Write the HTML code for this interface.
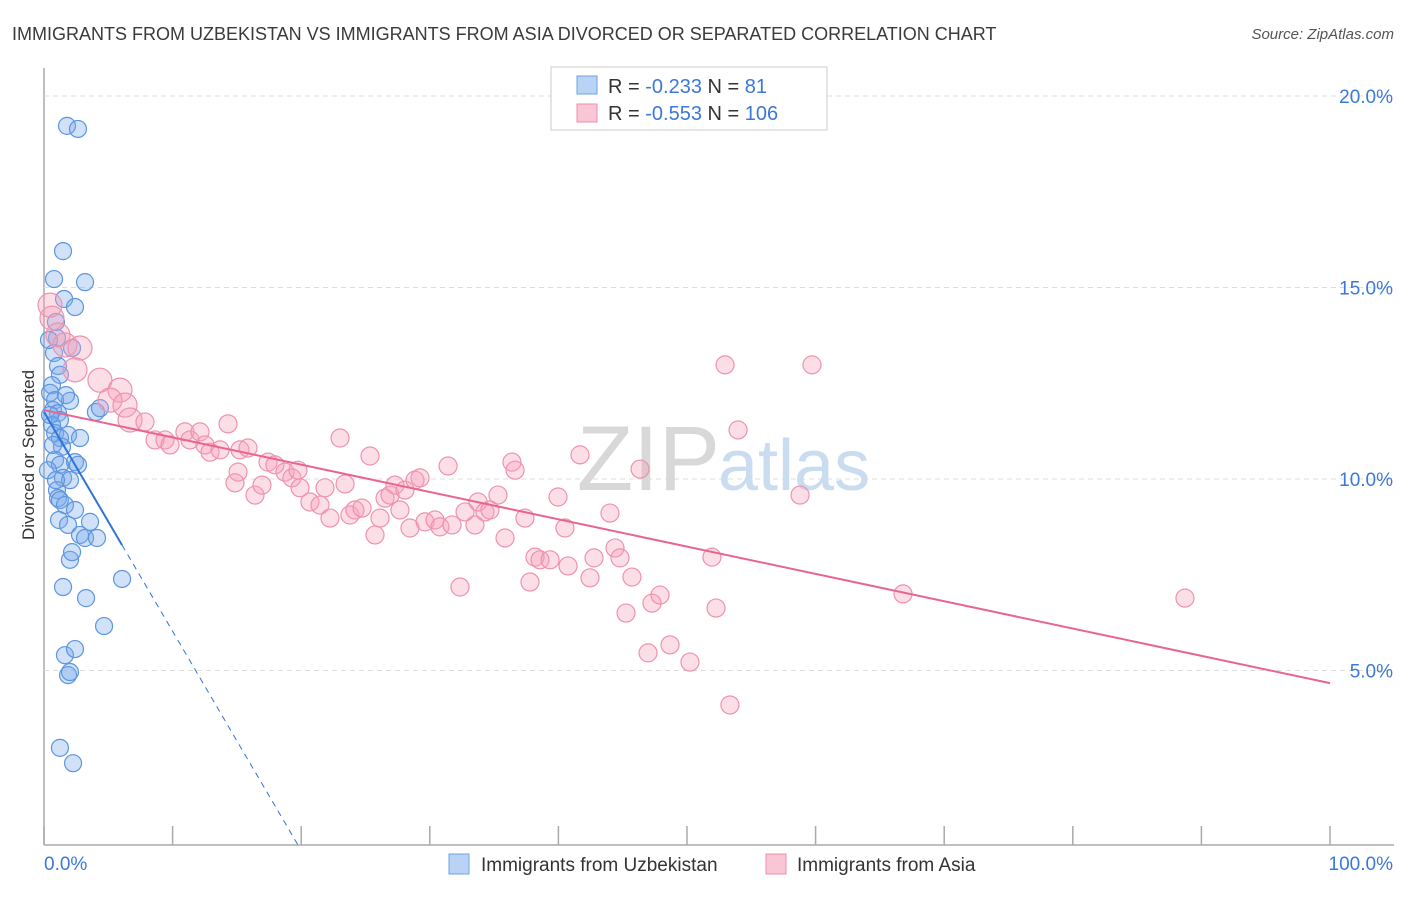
<!DOCTYPE html>
<html><head><meta charset="utf-8"><style>
body{margin:0;background:#fff;font-family:"Liberation Sans",sans-serif}
svg text{font-family:"Liberation Sans",sans-serif}
</style></head><body>
<svg id="c" width="1406" height="892" xmlns="http://www.w3.org/2000/svg">
<text x="12" y="40" font-size="18" fill="#3a3a3a">IMMIGRANTS FROM UZBEKISTAN VS IMMIGRANTS FROM ASIA DIVORCED OR SEPARATED CORRELATION CHART</text>
<text x="1394" y="39" font-size="15" fill="#555" text-anchor="end" font-style="italic">Source: ZipAtlas.com</text>
<text transform="translate(34,455) rotate(-90)" font-size="17" fill="#333" text-anchor="middle">Divorced or Separated</text>
<g id="grid"></g>
<text x="720" y="490" font-size="92" fill="#d8d8d8" text-anchor="end" font-family="Liberation Serif">ZIP</text>
<text x="718" y="490" font-size="72" fill="#c9dcf0">atlas</text>
<g id="pts"></g>
<g id="lines"></g>
<g>
<rect x="551" y="67" width="276" height="63" fill="#fff" stroke="#ccc"/>
<rect x="577" y="76" width="20" height="18" fill="#b8d3f5" stroke="#6fa0e0"/>
<rect x="577" y="104" width="20" height="18" fill="#f8c6d5" stroke="#ec90ad"/>
<text x="608" y="93" font-size="20" fill="#333">R = <tspan fill="#3b78d8">-0.233</tspan>   N = <tspan fill="#3b78d8">  81</tspan></text>
<text x="608" y="120" font-size="20" fill="#333">R = <tspan fill="#3b78d8">-0.553</tspan>   N = <tspan fill="#3b78d8">106</tspan></text>
</g>
<g>
<rect x="449" y="854" width="20" height="20" fill="#b8d3f5" stroke="#6fa0e0"/>
<text x="481" y="871" font-size="19" fill="#333">Immigrants from Uzbekistan</text>
<rect x="766" y="854" width="20" height="20" fill="#f8c6d5" stroke="#ec90ad"/>
<text x="797" y="871" font-size="19" fill="#333">Immigrants from Asia</text>
</g>
</svg>
<script>
const yTicks=[5,10,15,20];
const yTickLabels=["5.0%","10.0%","15.0%","20.0%"];
const xLabels=["0.0%","100.0%"];
const blueX=[1.79,2.64,1.48,0.78,3.19,1.56,2.41,0.93,1.01,2.18,0.78,1.09,1.24,0.62,0.47,2.02,0.86,0.70,4.04,4.35,1.09,1.24,0.62,0.86,1.87,2.80,1.24,1.40,0.86,2.41,1.24,0.31,2.64,1.48,2.02,1.01,1.09,1.24,1.63,2.41,1.17,1.87,3.58,2.80,3.19,4.12,2.02,2.18,6.07,1.48,3.27,4.67,1.63,2.41,1.87,2.02,1.24,2.26,0.93,0.47,0.70,1.71,0.39];
const blueY=[19.22,19.14,15.95,15.22,15.14,14.70,14.49,14.10,13.68,13.42,13.29,12.95,12.72,12.45,12.25,12.04,12.06,11.80,11.75,11.85,11.72,11.54,11.41,11.20,11.15,11.07,11.07,10.84,10.50,10.44,10.37,10.23,10.37,10.03,9.97,9.71,9.50,9.45,9.32,9.19,8.93,8.80,8.88,8.54,8.46,8.46,7.89,8.09,7.39,7.18,6.89,6.16,5.40,5.56,4.88,4.96,2.98,2.58,9.97,11.67,10.89,12.19,13.63];
const pinkX=[0.62,1.09,1.63,2.80,2.41,4.35,5.91,5.13,6.30,6.69,7.85,8.63,9.41,9.80,10.96,11.35,12.13,12.52,12.91,13.69,14.31,15.24,15.86,15.09,14.85,16.41,16.95,17.42,17.96,18.74,19.28,19.75,19.91,20.68,21.46,21.85,22.24,23.02,23.41,23.79,24.18,24.73,25.35,25.74,26.13,26.52,26.91,27.29,27.68,28.07,28.46,28.85,29.24,29.63,30.40,30.79,31.42,31.73,32.35,32.74,33.51,33.75,34.29,34.68,35.30,35.85,36.39,36.63,37.40,37.79,38.18,38.57,39.35,39.97,40.51,40.75,41.68,42.46,42.77,44.01,44.40,44.79,45.26,45.72,46.35,46.97,47.28,47.90,48.68,50.23,51.94,52.26,52.96,53.34,53.97,56.84,58.79,59.72,66.80,88.72,0.47];
const pinkY=[14.20,13.76,13.50,13.42,12.85,12.58,12.32,12.06,11.93,11.54,11.49,11.02,11.02,10.89,11.23,11.02,11.23,10.89,10.70,10.76,11.44,10.76,10.81,10.18,9.90,9.58,9.84,10.44,10.37,10.18,10.03,10.23,9.77,9.40,9.32,9.77,8.98,11.07,9.87,9.06,9.19,9.24,10.60,8.54,8.98,9.50,9.58,9.84,9.19,9.71,8.72,9.97,10.03,8.88,8.93,8.75,10.34,8.80,7.18,9.14,8.80,9.40,9.14,9.19,9.58,8.46,10.44,10.23,8.98,7.31,7.96,7.89,7.89,9.53,8.72,7.73,10.63,7.42,7.94,9.11,8.20,7.94,6.50,7.44,10.26,5.46,6.76,6.97,5.67,5.22,7.96,6.63,12.98,4.10,11.28,20.42,9.58,12.98,7.00,6.89,14.54];
const blueTrend=[11.75,-0.5725];
const pinkTrend=[11.8,-0.0713];
const NS="http://www.w3.org/2000/svg";
const X=v=>44+v*12.86, Y=v=>862-v*38.3;
function mk(p,t,a){const e=document.createElementNS(NS,t);for(const k in a)e.setAttribute(k,a[k]);p.appendChild(e);return e;}
const g=document.getElementById('grid'),P=document.getElementById('pts'),L=document.getElementById('lines');
let ax=mk(g,'line',{x1:44,y1:68,x2:44,y2:845,stroke:'#aaa','stroke-width':1.5});


let bx=mk(g,'line',{x1:44,y1:845,x2:1394,y2:845,stroke:'#aaa','stroke-width':1.5});


yTicks.forEach((t,i)=>{
 const l=mk(g,'line',{x1:44,x2:1394,y1:Y(t),y2:Y(t),stroke:'#ddd','stroke-dasharray':'5,4'});
 
 
 const tx=mk(g,'text',{x:1393,y:Y(t)+7,'font-size':19,fill:'#3b78d8','text-anchor':'end'});tx.textContent=yTickLabels[i];
 
 
});
for(let i=0;i<=10;i++){const l=mk(g,'line',{x1:X(i*10),x2:X(i*10),y1:826,y2:845,stroke:'#aaa','stroke-width':1.5});
 
 }
[[44,'start',0],[1393,'end',1]].forEach(([x,a,i])=>{const t=mk(g,'text',{x:x,y:870,'font-size':19,fill:'#3b78d8','text-anchor':a});t.textContent=xLabels[i];
 
 });
blueX.forEach((x,i)=>{const c=mk(P,'circle',{cx:X(x),cy:Y(blueY[i]),r:8.5,fill:'rgba(120,170,235,0.35)',stroke:'#5d96df','stroke-width':1.2});
 
 });
pinkX.forEach((x,i)=>{const c=mk(P,'circle',{cx:X(x),cy:Y(pinkY[i]),r:x<7?12:9,fill:'rgba(245,160,185,0.35)',stroke:'#ee92ae','stroke-width':1.2});
 
 });
const bEnd=6.07, yb=v=>blueTrend[0]+blueTrend[1]*v;
const x0=(0.44-blueTrend[0])/blueTrend[1];
let b1=mk(L,'line',{x1:X(0),y1:Y(yb(0)),x2:X(bEnd),y2:Y(yb(bEnd)),stroke:'#2f74d8','stroke-width':2});


let b2=mk(L,'line',{x1:X(bEnd),y1:Y(yb(bEnd)),x2:X(x0),y2:Y(yb(x0)),stroke:'#2f74d8','stroke-width':1,'stroke-dasharray':'6,5'});


let p1=mk(L,'line',{x1:X(0),y1:Y(pinkTrend[0]),x2:X(100),y2:Y(pinkTrend[0]+pinkTrend[1]*100),stroke:'#e9658f','stroke-width':2});


</script>
</body></html>
